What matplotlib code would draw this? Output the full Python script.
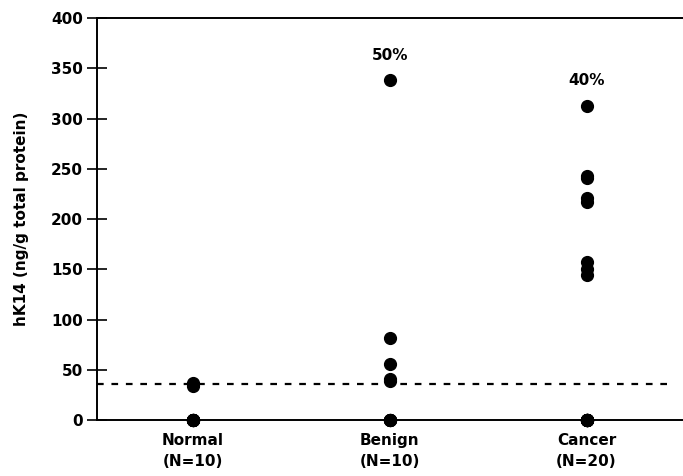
import numpy as np
import matplotlib.pyplot as plt

plt.rcParams['font.family'] = ['DejaVu Sans']
plt.rcParams['font.weight'] = 'bold'

groups = ["Normal\n(N=10)", "Benign\n(N=10)", "Cancer\n(N=20)"]
normal = [37, 34, 0, 0, 0, 0, 0, 0, 0, 0]
benign = [338, 82, 56, 41, 39, 0, 0, 0, 0, 0]
cancer = [312, 243, 241, 221, 217, 157, 150, 144,
          0, 0, 0, 0, 0, 0, 0, 0, 0, 0, 0, 0]
percent_labels = ["", "50%", "40%"]
percent_y = [0, 363, 338]
cutoff = 36

fig = plt.figure(figsize=(6.83, 4.76), dpi=100)
ax = fig.add_axes([0.142, 0.1176, 0.858, 0.8445])

for i, vals in enumerate([normal, benign, cancer]):
    ax.scatter([i + 1] * len(vals), vals, s=72, color="black", zorder=3, clip_on=False)
    if percent_labels[i]:
        ax.text(i + 1, percent_y[i], percent_labels[i], ha="center", va="center",
                fontsize=11, fontweight="bold")

ax.axhline(cutoff, color="black", lw=1.6, linestyle=(0, (3, 3.5)), xmax=0.985)

ax.set_xlim(0.513, 3.49)
ax.set_ylim(0, 400)
ax.set_yticks(range(0, 401, 50))
ax.set_xticks([1, 2, 3])
ax.set_xticklabels(groups, fontsize=11, fontweight="bold", linespacing=1.5)
ax.tick_params(axis="x", length=0, pad=9)
ax.tick_params(axis="y", direction="inout", length=14, width=1.2, labelsize=11, pad=3)
ax.set_ylabel("hK14 (ng/g total protein)", fontsize=11, fontweight="bold", labelpad=16)

for side in ["left", "top", "bottom"]:
    ax.spines[side].set_linewidth(1.4)
ax.spines["right"].set_visible(False)

fig.savefig("out.png", dpi=100)
